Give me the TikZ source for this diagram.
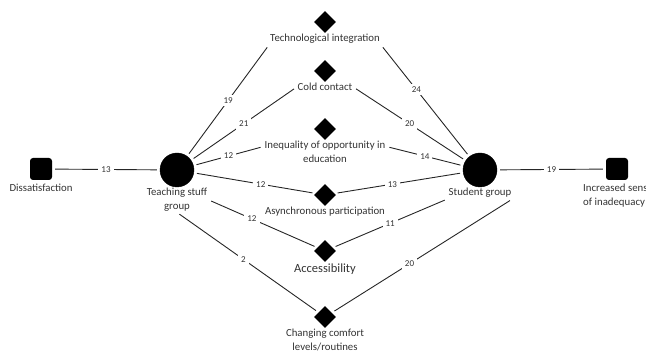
\documentclass[tikz,border=0pt]{standalone}
\usepackage{fontspec}
\setmainfont{Carlito}
\usetikzlibrary{positioning,shapes.geometric}
\tikzset{
  grp/.style={circle,fill=black,draw=black,minimum size=34pt,inner sep=0pt},
  outcome/.style={rectangle,rounded corners=3pt,fill=black,minimum size=22pt,inner sep=0pt},
  theme/.style={diamond,fill=black,minimum width=22pt,minimum height=22pt,inner sep=0pt},
  caption/.style={align=center,text=black!80,font=\fontsize{10.8}{13.5}\selectfont,inner sep=1pt},
  links/.style={
    every edge/.style={draw=black!85,line width=0.9pt,shorten <=3pt,shorten >=3pt}
  },
  wt/.style={fill=white,inner sep=3pt,font=\fontsize{9}{10}\selectfont,text=black!80}
}
\begin{document}
\begin{tikzpicture}[x=1pt,y=-1pt]
  \useasboundingbox (0,0) rectangle (646,352);
  % groups and outcomes
  \node[outcome] (diss) at (41,169) {};
  \node[caption,below=3pt of diss] (disslbl) {Dissatisfaction};
  \node[grp] (teach) at (177,170) {};
  \node[caption,below=0pt of teach] (teachlbl) {Teaching stuff\\group};
  \node[grp] (stud) at (480,170) {};
  \node[caption,below=0pt of stud] (studlbl) {Student group};
  \node[outcome] (incr) at (617,169) {};
  \node[caption,align=left,anchor=north west] (incrlbl) at (582,183) {Increased sense\\of inadequacy};
  % themes
  \node[theme] (tech) at (325,22) {};
  \node[caption,below=0pt of tech] (techlbl) {Technological integration};
  \node[theme] (cold) at (325,71) {};
  \node[caption,below=0pt of cold] (coldlbl) {Cold contact};
  \node[theme] (ineq) at (325,129) {};
  \node[caption,below=0pt of ineq] (ineqlbl) {Inequality of opportunity in\\education};
  \node[theme] (async) at (325,195) {};
  \node[caption,below=0pt of async] (asynclbl) {Asynchronous participation};
  \node[theme] (access) at (325,251) {};
  \node[caption,font=\fontsize{12.5}{14}\selectfont,below=0pt of access] (accesslbl) {Accessibility};
  \node[theme] (change) at (325,317) {};
  \node[caption,below=0pt of change] (changelbl) {Changing comfort\\levels/routines};
  \path[links]
  (diss) edge node[wt] {13} (teach)
  (stud) edge node[wt] {19} (incr)
  (teach) edge node[wt] {19} (techlbl.south west)
  (stud) edge node[wt,pos=.6] {24} (techlbl.south east)
  (teach) edge node[wt] {21} (coldlbl.west)
  (stud) edge node[wt] {20} (coldlbl.east)
  (teach) edge node[wt] {12} (ineqlbl.175)
  (stud) edge node[wt] {14} (ineqlbl.5)
  (teach) edge node[wt,pos=.55] {12} (async)
  (stud) edge node[wt,pos=.55] {13} (async)
  (teachlbl.east) edge node[wt,pos=.4] {12} (access)
  (studlbl.south west) edge node[wt] {11} (access)
  (teachlbl.south) edge node[wt,pos=.47] {2} (change)
  (studlbl.south east) edge node[wt,pos=.57] {20} (change);
\end{tikzpicture}
\end{document}
